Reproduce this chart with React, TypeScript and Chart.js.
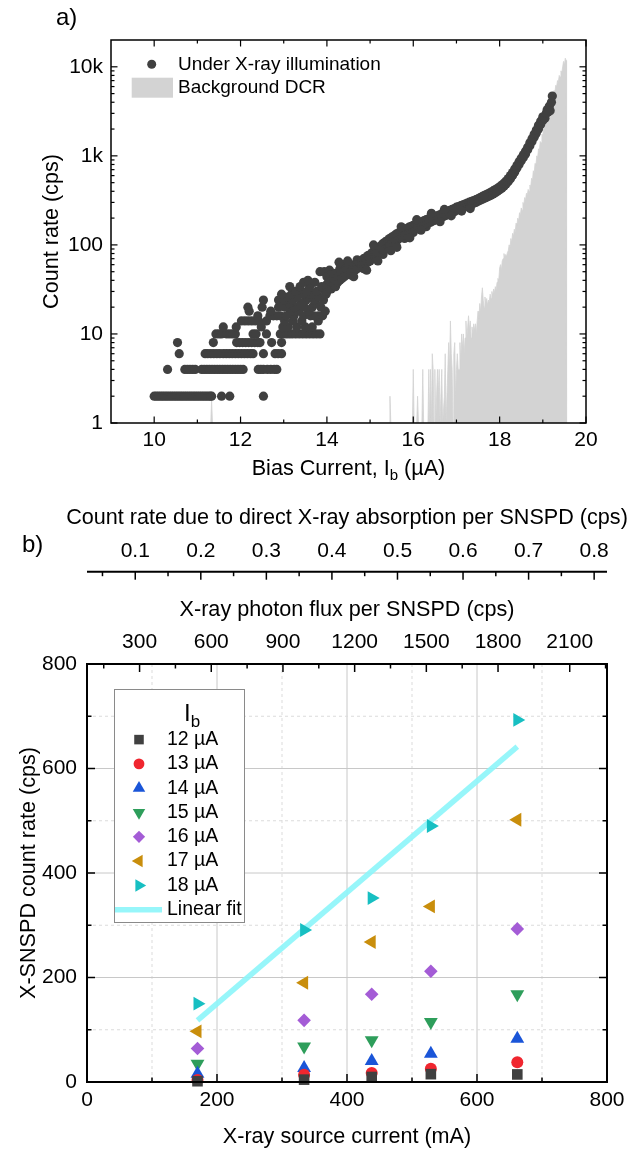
import React, { useEffect, useRef } from 'react';
import { Chart, registerables } from 'chart.js';
import { drawPoint } from 'chart.js/helpers';

Chart.register(...registerables);

const FONT = "'Liberation Sans', Arial, Helvetica, sans-serif";
Chart.defaults.font.family = FONT;
Chart.defaults.color = '#000';

// ---------------- Panel a) data ----------------
const illumLow: [number, number][] = [
  [10.00,2],[10.05,2],[10.10,2],[10.15,2],[10.20,2],[10.25,2],[10.30,2],[10.35,2],[10.40,2],[10.45,2],
  [10.50,2],[10.55,2],[10.60,2],[10.65,2],[10.70,2],[10.75,2],[10.80,2],[10.85,2],[10.90,2],[10.95,2],
  [11.00,2],[11.05,2],[11.10,2],[11.15,2],[11.20,2],[11.25,2],[11.30,2],[11.33,2],[11.56,2],[11.75,2],[12.53,2],
  [10.31,4],[10.71,4],[10.77,4],[10.83,4],[10.89,4],[10.95,4],[11.10,4],[11.16,4],[11.22,4],[11.28,4],
  [11.34,4],[11.40,4],[11.46,4],[11.52,4],[11.58,4],[11.64,4],[11.70,4],[11.76,4],[11.82,4],[11.88,4],
  [11.94,4],[12.00,4],[12.06,4],[12.41,4],[12.47,4],[12.53,4],[12.62,4],[12.70,4],[12.78,4],[12.84,4],
  [10.58,6],[11.18,6],[11.24,6],[11.31,6],[11.38,6],[11.45,6],[11.52,6],[11.60,6],[11.67,6],[11.74,6],
  [11.81,6],[11.88,6],[11.95,6],[12.02,6],[12.09,6],[12.16,6],[12.23,6],[12.29,6],[12.53,6],[12.80,6],[12.87,6],[12.95,6],
  [10.54,8],[11.37,8],[11.91,8],[11.98,8],[12.05,8],[12.12,8],[12.19,8],[12.26,8],[12.33,8],[12.40,8],[12.45,8],[12.72,8],[12.95,8],
  [11.43,10],[11.50,10],[11.56,10],[11.68,10],[11.75,10],[11.82,10],[11.88,10],[12.29,10],[12.36,10],[12.60,10],
  [12.92,10],[12.99,10],[13.06,10],[13.13,10],[13.20,10],[13.28,10],[13.36,10],[13.44,10],[13.52,10],[13.60,10],[13.68,10],[13.76,10],[13.84,10],
  [11.60,12],[11.90,12],[12.48,12],[12.98,12],[13.10,12],[13.30,12],[13.50,12],[13.66,12],
  [12.02,14],[12.10,14],[12.18,14],[12.26,14],[12.34,14],[12.42,14],[12.60,14],[13.02,14],[13.22,14],[13.42,14],[13.80,14],
  [12.40,16],[12.68,16],[12.76,16],[12.84,16],[12.92,16],[13.06,16],[13.24,16],[13.46,16],[13.62,16],[13.70,16],[13.80,16],[13.90,16],
  [12.20,18],[12.70,18],[13.16,18],[13.34,18],[13.58,18],[13.96,18],
  [12.17,20],[12.50,20],[12.88,20],[13.02,20],[13.26,20],[13.48,20],[13.66,20],[13.86,20],
  [12.96,22],[13.14,22],[13.40,22],[13.74,22],
  [12.53,24],[12.88,24],[13.00,24],[13.22,24],[13.52,24],[13.70,24],[13.92,24],
  [13.08,26],[13.32,26],[13.56,26],[13.82,26],
  [12.95,28],[13.18,28],[13.44,28],[13.64,28],[13.98,28],
  [13.28,30],[13.54,30],[13.76,30],[13.96,30],
  [13.14,34],[13.38,34],[13.60,34],[13.88,34],
  [13.46,38],[13.56,40],[13.72,38],
  [13.84,50],[13.94,50],[14.06,52],
];
const illumMid: [number, number][] = [
  [14.00,30],[14.00,36],[14.00,44],[14.05,34],[14.05,40],[14.10,32],[14.10,38],[14.10,46],[14.15,36],[14.15,42],
  [14.20,34],[14.20,40],[14.20,48],[14.25,38],[14.25,44],[14.30,40],[14.30,46],[14.30,54],[14.35,42],[14.35,50],
  [14.40,44],[14.40,52],[14.40,60],[14.45,46],[14.45,54],[14.50,48],[14.50,56],[14.55,46],[14.55,52],[14.55,60],
  [14.60,50],[14.60,58],[14.65,52],[14.65,60],[14.70,54],[14.70,62],[14.70,68],[14.75,56],[14.75,64],[14.80,58],
  [14.80,66],[14.85,54],[14.85,60],[14.85,70],[14.90,62],[14.90,72],[14.95,64],[14.95,76],[15.00,66],[15.00,70],
  [15.00,78],[15.05,70],[15.05,82],[15.10,74],[15.10,86],[15.15,76],[15.15,90],[15.20,80],[15.20,94],[15.25,84],
  [15.25,98],[15.30,78],[15.30,88],[15.30,104],[15.35,92],[15.35,108],[15.40,96],[15.40,112],[15.45,90],[15.45,100],
  [15.45,118],[15.50,104],[15.50,122],[15.55,108],[15.55,126],[15.60,100],[15.60,112],[15.60,132],[15.65,116],[15.65,136],
  [15.70,120],[15.70,140],[15.75,124],[15.75,146],[15.80,118],[15.80,128],[15.80,150],[15.85,132],[15.85,152],[15.90,136],
  [15.90,158],[15.95,142],[15.95,162],[16.00,138],[16.00,148],[16.00,166],[16.05,150],[16.05,170],[16.10,156],[16.10,174],
  [16.15,160],[16.15,178],[16.20,164],[16.20,182],[16.25,168],[16.25,188],[16.30,160],[16.30,172],[16.30,192],[16.35,176],
  [16.35,196],[16.40,180],[16.40,200],[16.45,186],[16.45,204],[16.50,190],[16.50,208],[16.55,196],[16.55,212],[16.60,200],
  [16.60,216],[16.65,204],[16.65,222],[16.70,208],[16.70,226],[16.75,214],[16.75,232],[16.80,218],[16.80,238],[16.85,224],
  [16.85,244],[16.90,230],[16.90,250],[16.95,236],[16.95,256],[17.00,245],[17.00,265],[17.05,250],[17.05,270],[17.10,255],
  [17.10,276],[17.15,262],[17.15,282],[17.20,268],[17.20,288],[17.25,275],[17.25,295],[17.30,282],[17.30,302],[17.35,288],
  [17.35,308],[17.40,294],[17.40,315],[17.45,300],[17.45,322],[17.50,310],[17.50,330],[17.55,318],[17.55,340],[17.60,326],
  [17.60,350],[17.65,334],[17.65,360],[17.70,342],[17.70,370],[17.75,352],[17.75,380],[17.80,362],[17.80,392],[17.85,374],
  [17.85,404],[17.90,386],[17.90,418],[17.95,400],[17.95,432],
  // scattered outliers around the band
  [14.28,64],[14.62,44],[14.92,52],[15.18,66],[15.48,86],[15.72,160],[15.92,120],[16.18,146],[16.42,226],[16.62,182],
  [16.88,212],[17.12,240],[17.32,256],[14.48,66],[15.08,100],[15.62,94],[16.08,192],[16.72,250],
];
const illumHigh: [number, number][] = [
  [18.00,416],[18.00,450],[18.05,434],[18.05,470],[18.10,456],[18.10,494],[18.15,482],[18.15,522],[18.20,514],[18.20,556],
  [18.25,552],[18.25,600],[18.30,600],[18.30,650],[18.35,660],[18.35,710],[18.40,730],[18.40,780],[18.45,800],[18.45,860],
  [18.50,880],[18.50,940],[18.55,960],[18.55,1030],[18.60,1050],[18.60,1130],[18.65,1170],[18.65,1250],[18.70,1300],[18.70,1400],
  [18.75,1450],[18.75,1560],[18.80,1620],[18.80,1750],[18.85,1800],[18.85,1950],[18.90,2000],[18.90,2200],[18.95,2250],[18.95,2450],
  [19.00,2500],[19.00,2750],[19.05,2650],[19.08,3000],[19.10,3300],[19.12,3100],[19.15,3600],[19.17,3200],[19.20,4000],[19.22,4700],
];
const dcrSpikes: [number, number][] = [
  [11.31,1],[11.33,1.8],[11.35,1],
  [15.44,1],[15.46,2],[15.48,1],
  [15.98,1],[16.00,4],[16.02,1],
  [16.08,1],[16.10,2],[16.12,1],
  [16.20,1],[16.22,4],[16.24,1],
  [16.34,1],[16.36,4],[16.38,1],[16.40,4],[16.42,1],[16.44,6],[16.46,4],[16.48,1],[16.50,4],[16.52,1],
  [16.56,4],[16.58,2],[16.60,4],[16.62,1],[16.66,4],[16.68,1],[16.72,2],[16.74,6],[16.76,1],[16.80,4],
  [16.82,8],[16.84,4],[16.86,14],[16.88,6],[16.90,4],[16.92,1],[16.94,6],[16.96,8],[16.98,2],[17.00,4],
  [17.02,6],[17.04,4],
];
const dcrRise: [number, number][] = [
  [17.06,4],[17.08,8],[17.10,5],[17.12,10],[17.14,7],[17.16,10],[17.18,6],[17.20,9],[17.22,14],[17.24,9],
  [17.26,12],[17.28,16],[17.30,11],[17.32,14],[17.34,9],[17.36,12],[17.38,10],[17.40,13],[17.42,11],[17.44,13],
  [17.46,10],[17.48,14],[17.50,18],[17.52,15],[17.54,22],[17.56,18],[17.58,26],[17.60,33],[17.62,24],[17.64,20],
  [17.66,26],[17.68,22],[17.70,25],[17.72,21],[17.74,24],[17.76,23],[17.78,28],[17.80,25],[17.82,30],[17.84,27],
  [17.86,32],[17.88,29],[17.90,34],[17.92,31],[17.94,38],[17.96,42],[17.98,40],[18.00,55],[18.02,60],[18.04,52],
  [18.06,66],[18.08,70],[18.10,80],[18.12,72],[18.14,78],[18.16,74],[18.18,82],[18.20,86],[18.22,100],[18.24,92],
  [18.26,118],[18.28,108],[18.30,135],[18.32,125],[18.34,150],[18.36,140],[18.38,175],[18.40,165],[18.42,200],[18.44,185],
  [18.46,230],[18.48,215],[18.50,260],[18.52,245],[18.54,300],[18.56,280],[18.58,340],[18.60,320],[18.62,380],[18.64,360],
  [18.66,420],[18.68,400],[18.70,470],[18.72,450],[18.74,560],[18.76,530],[18.78,680],[18.80,640],[18.82,820],[18.84,780],
  [18.86,1000],[18.88,950],[18.90,1200],[18.92,1150],[18.94,1450],[18.96,1400],[18.98,1750],[19.00,1700],[19.02,2100],[19.04,2000],
  [19.06,2500],[19.08,2400],[19.10,2900],[19.12,2800],[19.14,3400],[19.16,3300],[19.18,3900],[19.20,3800],[19.22,4600],[19.24,4500],
  [19.26,5400],[19.28,5200],[19.30,6200],[19.32,6000],[19.34,7000],[19.36,6800],[19.38,8000],[19.40,7700],[19.42,9000],[19.44,8600],
  [19.46,10000],[19.48,11500],[19.50,10500],[19.52,12500],[19.54,11800],[19.55,1],
];
const legendLabelsA = ['Under X-ray illumination', 'Background DCR'];
const biasMajorTicks = [10, 12, 14, 16, 18, 20];
const biasMinorTicks = [11, 13, 15, 17, 19];
const countMajorTicks = [1, 10, 100, 1000, 10000];
const countTickLabels = ['1', '10', '100', '1k', '10k'];
const countMinorTicks = [
  2, 3, 4, 5, 6, 7, 8, 9,
  20, 30, 40, 50, 60, 70, 80, 90,
  200, 300, 400, 500, 600, 700, 800, 900,
  2000, 3000, 4000, 5000, 6000, 7000, 8000, 9000,
];

// ---------------- Panel b) data ----------------
const sourceCurrent = [170, 334, 438, 529, 662];
const seriesLabels = ['12 µA', '13 µA', '14 µA', '15 µA', '16 µA', '17 µA', '18 µA'];
const rate12uA = [1.5, 4.5, 9.6, 15, 14.5];
const rate13uA = [4, 14, 17, 25.5, 38];
const rate14uA = [16, 27, 40, 54, 83];
const rate15uA = [35, 68, 80, 115, 168];
const rate16uA = [64, 118, 168, 212, 293];
const rate17uA = [97, 190, 268, 336, 502];
const rate18uA = [150, 291, 352, 490, 693];
const fitCurrent = [170, 662];
const fitRate = [118, 642];
const fitLabel = 'Linear fit';
const currentTicks = [0, 100, 200, 300, 400, 500, 600, 700, 800];
const currentTickLabels = ['0', '', '200', '', '400', '', '600', '', '800'];
const rateTicks = [0, 100, 200, 300, 400, 500, 600, 700, 800];
const rateTickLabels = ['0', '', '200', '', '400', '', '600', '', '800'];
const fluxMajorTicks = [300, 600, 900, 1200, 1500, 1800, 2100];
const fluxMinorTicks = [150, 450, 750, 1050, 1350, 1650, 1950, 2250];
const absorbMajorTicks = [0.1, 0.2, 0.3, 0.4, 0.5, 0.6, 0.7, 0.8];
const absorbTickLabels = ['0.1', '0.2', '0.3', '0.4', '0.5', '0.6', '0.7', '0.8'];
const absorbMinorTicks = [0.05, 0.15, 0.25, 0.35, 0.45, 0.55, 0.65, 0.75];

// ---------------- styles ----------------
const TICK_SIZE = 21;
const TITLE_SIZE = 21.6;
const LEG_SIZE = 19;
const DOT_COLOR = '#404040';
const DCR_COLOR = '#d3d3d3';
const FIT_COLOR = 'rgba(140, 245, 250, 0.9)';
const seriesStyles = [
  { pointStyle: 'rect', rotation: 0, radius: 7.5, color: '#404040' },
  { pointStyle: 'circle', rotation: 0, radius: 6, color: '#f0262f' },
  { pointStyle: 'triangle', rotation: 0, radius: 8, color: '#1a55d8' },
  { pointStyle: 'triangle', rotation: 180, radius: 8, color: '#2e9e5b' },
  { pointStyle: 'rectRot', rotation: 0, radius: 6.8, color: '#a45cd6' },
  { pointStyle: 'triangle', rotation: 270, radius: 8, color: '#c98e0c' },
  { pointStyle: 'triangle', rotation: 90, radius: 8, color: '#17bfc2' },
];
const seriesValues = [rate12uA, rate13uA, rate14uA, rate15uA, rate16uA, rate17uA, rate18uA];

function font(size: number) {
  return `${size}px ${FONT}`;
}

function drawSubscripted(ctx: any, pre: string, sub: string, post: string, cx: number, cy: number, size: number, subSize: number, drop: number, align = 'center') {
  ctx.font = font(size);
  const w1 = ctx.measureText(pre).width;
  const w3 = ctx.measureText(post).width;
  ctx.font = font(subSize);
  const w2 = ctx.measureText(sub).width;
  let x = align === 'center' ? cx - (w1 + w2 + w3) / 2 : cx;
  const base = cy + size * 0.36;
  ctx.textBaseline = 'alphabetic';
  ctx.textAlign = 'left';
  ctx.font = font(size);
  ctx.fillText(pre, x, base);
  x += w1;
  ctx.font = font(subSize);
  ctx.fillText(sub, x, base + drop);
  x += w2;
  ctx.font = font(size);
  if (post) ctx.fillText(post, x, base);
}

function seg(ctx: any, x1: number, y1: number, x2: number, y2: number) {
  ctx.beginPath();
  ctx.moveTo(x1, y1);
  ctx.lineTo(x2, y2);
  ctx.stroke();
}

const panelAPlugin = {
  id: 'panelA',
  afterDraw(chart: any) {
    const { ctx, chartArea: ca, scales } = chart;
    const xs = scales.x;
    const ys = scales.y;
    ctx.save();
    ctx.strokeStyle = '#000';
    ctx.lineWidth = 1.2;
    const xT = (vals: number[], len: number) => vals.forEach((v) => {
      const p = xs.getPixelForValue(v);
      seg(ctx, p, ca.bottom, p, ca.bottom - len);
      seg(ctx, p, ca.top, p, ca.top + len);
    });
    const yT = (vals: number[], len: number) => vals.forEach((v) => {
      const p = ys.getPixelForValue(v);
      seg(ctx, ca.left, p, ca.left + len, p);
      seg(ctx, ca.right, p, ca.right - len, p);
    });
    xT(biasMajorTicks, 6.5);
    xT(biasMinorTicks, 3.5);
    yT(countMajorTicks, 6.5);
    yT(countMinorTicks, 3.5);
    ctx.lineWidth = 1.5;
    ctx.strokeRect(ca.left, ca.top, ca.right - ca.left, ca.bottom - ca.top);

    // legend
    ctx.fillStyle = DOT_COLOR;
    drawPoint(ctx, { pointStyle: 'circle', radius: 4.5, rotation: 0, borderWidth: 0 } as any, 151.7, 64.3);
    ctx.fillStyle = DCR_COLOR;
    ctx.fillRect(131.7, 77.7, 41.3, 20);
    ctx.fillStyle = '#000';
    ctx.font = font(LEG_SIZE);
    ctx.textAlign = 'left';
    ctx.textBaseline = 'middle';
    ctx.fillText(legendLabelsA[0], 178, 64.3);
    ctx.fillText(legendLabelsA[1], 178, 88);

    // x title with subscript
    drawSubscripted(ctx, 'Bias Current, I', 'b', ' (µA)', (ca.left + ca.right) / 2, 467, TITLE_SIZE, 15, 5);

    // panel label
    ctx.font = font(24);
    ctx.textAlign = 'left';
    ctx.textBaseline = 'middle';
    ctx.fillText('a)', 56, 18);
    ctx.restore();
  },
};

const panelBPlugin = {
  id: 'panelB',
  beforeDatasetsDraw(chart: any) {
    const { ctx, chartArea: ca, scales } = chart;
    const xs = scales.x;
    const ys = scales.y;
    ctx.save();
    ctx.lineWidth = 1;
    currentTicks.forEach((v, i) => {
      if (i === 0 || i === currentTicks.length - 1) return;
      const p = xs.getPixelForValue(v);
      const major = currentTickLabels[i] !== '';
      ctx.strokeStyle = major ? '#c8c8c8' : '#dcdcdc';
      ctx.setLineDash(major ? [] : [3, 3]);
      seg(ctx, p, ca.top, p, ca.bottom);
    });
    rateTicks.forEach((v, i) => {
      if (i === 0 || i === rateTicks.length - 1) return;
      const p = ys.getPixelForValue(v);
      const major = rateTickLabels[i] !== '';
      ctx.strokeStyle = major ? '#c8c8c8' : '#dcdcdc';
      ctx.setLineDash(major ? [] : [3, 3]);
      seg(ctx, ca.left, p, ca.right, p);
    });
    ctx.restore();
  },
  afterDraw(chart: any) {
    const { ctx, chartArea: ca, scales } = chart;
    const xs = scales.x;
    const ys = scales.y;
    const xf = scales.xFlux;
    const xa = scales.xAbs;
    ctx.save();
    ctx.strokeStyle = '#000';
    ctx.lineWidth = 1.5;
    currentTicks.forEach((v, i) => {
      const p = xs.getPixelForValue(v);
      const len = currentTickLabels[i] !== '' ? 8 : 4.5;
      seg(ctx, p, ca.bottom, p, ca.bottom - len);
    });
    fluxMajorTicks.forEach((v) => {
      const p = xf.getPixelForValue(v);
      seg(ctx, p, ca.top, p, ca.top + 8);
    });
    fluxMinorTicks.forEach((v) => {
      const p = xf.getPixelForValue(v);
      seg(ctx, p, ca.top, p, ca.top + 4.5);
    });
    rateTicks.forEach((v, i) => {
      const p = ys.getPixelForValue(v);
      const len = rateTickLabels[i] !== '' ? 8 : 4.5;
      seg(ctx, ca.left, p, ca.left + len, p);
      seg(ctx, ca.right, p, ca.right - len, p);
    });
    ctx.lineWidth = 2;
    ctx.strokeRect(ca.left, ca.top, ca.right - ca.left, ca.bottom - ca.top);

    // detached absorption axis
    const ay = xa.bottom;
    seg(ctx, ca.left, ay, ca.right, ay);
    ctx.lineWidth = 1.5;
    absorbMajorTicks.forEach((v) => {
      const p = xa.getPixelForValue(v);
      seg(ctx, p, ay, p, ay + 8);
    });
    absorbMinorTicks.forEach((v) => {
      const p = xa.getPixelForValue(v);
      seg(ctx, p, ay, p, ay + 4.5);
    });
    ctx.fillStyle = '#000';
    ctx.font = font(TITLE_SIZE);
    ctx.textAlign = 'center';
    ctx.textBaseline = 'middle';
    ctx.fillText('Count rate due to direct X-ray absorption per SNSPD (cps)', (ca.left + ca.right) / 2, 38);

    // legend
    const L = { left: 114, top: 209, width: 130, height: 233, markerX: 139, textX: 167, firstRow: 259.6, step: 24.3 };
    ctx.fillStyle = '#fff';
    ctx.fillRect(L.left, L.top, L.width, L.height);
    ctx.strokeStyle = '#8a8a8a';
    ctx.lineWidth = 1;
    ctx.strokeRect(L.left + 0.5, L.top + 0.5, L.width, L.height);
    ctx.fillStyle = '#000';
    drawSubscripted(ctx, 'I', 'b', '', 184, 232, 24, 17, 6, 'left');
    seriesStyles.forEach((s, i) => {
      const y = L.firstRow + L.step * i;
      ctx.fillStyle = s.color;
      drawPoint(ctx, { pointStyle: s.pointStyle, radius: s.radius * 0.9, rotation: s.rotation, borderWidth: 0 } as any, L.markerX, y);
      ctx.fillStyle = '#000';
      ctx.font = font(LEG_SIZE + 0.5);
      ctx.textAlign = 'left';
      ctx.textBaseline = 'middle';
      ctx.fillText(seriesLabels[i], L.textX, y);
    });
    const fy = L.firstRow + L.step * 7;
    ctx.strokeStyle = FIT_COLOR;
    ctx.lineWidth = 5.5;
    seg(ctx, 115, fy, 162, fy);
    ctx.fillStyle = '#000';
    ctx.font = font(LEG_SIZE + 0.5);
    ctx.textAlign = 'left';
    ctx.textBaseline = 'middle';
    ctx.fillText(fitLabel, L.textX, fy);

    // panel label
    ctx.font = font(24);
    ctx.fillText('b)', 22, 65);
    ctx.restore();
  },
};

function tickFont(size: number) {
  return { family: FONT, size };
}

function buildChartA(canvas: HTMLCanvasElement) {
  const illum = [...illumLow, ...illumMid, ...illumHigh].map(([x, y]) => ({ x, y }));
  const dcr = [...dcrSpikes, ...dcrRise].map(([x, y]) => ({ x, y }));
  return new Chart(canvas, {
    type: 'scatter',
    data: {
      datasets: [
        {
          type: 'scatter',
          label: legendLabelsA[0],
          data: illum,
          pointRadius: 4.6,
          pointHoverRadius: 4.6,
          backgroundColor: DOT_COLOR,
          borderWidth: 0,
          order: 1,
        } as any,
        {
          type: 'line',
          label: legendLabelsA[1],
          data: dcr,
          borderColor: DCR_COLOR,
          borderWidth: 0.8,
          backgroundColor: DCR_COLOR,
          fill: 'start',
          pointRadius: 0,
          tension: 0,
          order: 2,
        } as any,
      ],
    },
    options: {
      responsive: false,
      animation: false,
      events: [],
      layout: { padding: { left: 0, right: 45, top: 40, bottom: 0 } },
      plugins: { legend: { display: false }, tooltip: { enabled: false } },
      scales: {
        x: {
          type: 'linear',
          position: 'bottom',
          min: 9,
          max: 20,
          afterBuildTicks: (s: any) => { s.ticks = biasMajorTicks.map((v) => ({ value: v })); },
          afterFit: (s: any) => { s.height = 57; },
          grid: { display: false, drawTicks: false },
          border: { display: false },
          ticks: {
            padding: 4.4,
            color: '#000',
            font: tickFont(TICK_SIZE),
            autoSkip: false,
            maxRotation: 0,
            callback: (v: any) => String(v),
          },
        },
        y: {
          type: 'logarithmic',
          min: 1,
          max: 20000,
          afterBuildTicks: (s: any) => { s.ticks = countMajorTicks.map((v) => ({ value: v })); },
          afterFit: (s: any) => { s.width = 111; },
          grid: { display: false, drawTicks: false },
          border: { display: false },
          title: {
            display: true,
            text: 'Count rate (cps)',
            color: '#000',
            font: tickFont(TITLE_SIZE),
            padding: { top: 39, bottom: 0 },
          },
          ticks: {
            padding: 8,
            color: '#000',
            font: tickFont(TICK_SIZE),
            autoSkip: false,
            callback: (_v: any, i: number) => countTickLabels[i],
          },
        },
      },
    } as any,
    plugins: [panelAPlugin],
  });
}

function buildChartB(canvas: HTMLCanvasElement) {
  const datasets: any[] = seriesValues.map((vals, i) => ({
    type: 'scatter',
    label: seriesLabels[i],
    data: vals.map((y, j) => ({ x: sourceCurrent[j], y })),
    pointStyle: seriesStyles[i].pointStyle,
    pointRotation: seriesStyles[i].rotation,
    pointRadius: seriesStyles[i].radius,
    pointHoverRadius: seriesStyles[i].radius,
    backgroundColor: seriesStyles[i].color,
    borderWidth: 0,
    clip: false,
    order: 1,
    xAxisID: 'x',
    yAxisID: 'y',
  }));
  datasets.push({
    type: 'line',
    label: fitLabel,
    data: fitCurrent.map((x, j) => ({ x, y: fitRate[j] })),
    borderColor: FIT_COLOR,
    borderWidth: 5.5,
    pointRadius: 0,
    fill: false,
    order: 10,
    xAxisID: 'x',
    yAxisID: 'y',
  });
  return new Chart(canvas, {
    type: 'scatter',
    data: { datasets },
    options: {
      responsive: false,
      animation: false,
      events: [],
      layout: { padding: { left: 0, right: 24, top: 0, bottom: 0 } },
      plugins: { legend: { display: false }, tooltip: { enabled: false } },
      scales: {
        x: {
          type: 'linear',
          position: 'bottom',
          min: 0,
          max: 800,
          afterBuildTicks: (s: any) => { s.ticks = currentTicks.map((v) => ({ value: v })); },
          afterFit: (s: any) => { s.height = 68; },
          grid: { display: false, drawTicks: false },
          border: { display: false },
          title: {
            display: true,
            text: 'X-ray source current (mA)',
            color: '#000',
            font: tickFont(TITLE_SIZE),
            padding: { top: 0, bottom: 0.3 },
          },
          ticks: {
            padding: 5.4,
            color: '#000',
            font: tickFont(TICK_SIZE),
            autoSkip: false,
            maxRotation: 0,
            callback: (_v: any, i: number) => currentTickLabels[i],
          },
        },
        xFlux: {
          type: 'linear',
          position: 'top',
          weight: 1,
          min: 80,
          max: 2256,
          afterBuildTicks: (s: any) => { s.ticks = fluxMajorTicks.map((v) => ({ value: v })); },
          afterFit: (s: any) => { s.height = 92.3; },
          grid: { display: false, drawTicks: false },
          border: { display: false },
          title: {
            display: true,
            text: 'X-ray photon flux per SNSPD (cps)',
            color: '#000',
            font: tickFont(TITLE_SIZE),
            padding: { top: 25.3, bottom: 0 },
          },
          ticks: {
            padding: 8.7,
            color: '#000',
            font: tickFont(TICK_SIZE),
            autoSkip: false,
            maxRotation: 0,
            callback: (v: any) => String(v),
          },
        },
        xAbs: {
          type: 'linear',
          position: 'top',
          weight: 2,
          min: 0.0264,
          max: 0.8196,
          afterBuildTicks: (s: any) => { s.ticks = absorbMajorTicks.map((v) => ({ value: v })); },
          afterFit: (s: any) => { s.height = 91.7; },
          grid: { display: false, drawTicks: false },
          border: { display: false },
          ticks: {
            padding: 7.4,
            color: '#000',
            font: tickFont(TICK_SIZE),
            autoSkip: false,
            maxRotation: 0,
            callback: (_v: any, i: number) => absorbTickLabels[i],
          },
        },
        y: {
          type: 'linear',
          position: 'left',
          min: 0,
          max: 800,
          afterBuildTicks: (s: any) => { s.ticks = rateTicks.map((v) => ({ value: v })); },
          afterFit: (s: any) => { s.width = 87; },
          grid: { display: false, drawTicks: false },
          border: { display: false },
          title: {
            display: true,
            text: 'X-SNSPD count rate (cps)',
            color: '#000',
            font: tickFont(TITLE_SIZE),
            padding: { top: 16, bottom: 0 },
          },
          ticks: {
            padding: 10,
            color: '#000',
            font: tickFont(TICK_SIZE),
            autoSkip: false,
            callback: (_v: any, i: number) => rateTickLabels[i],
          },
        },
      },
    } as any,
    plugins: [panelBPlugin],
  });
}

export default function App() {
  const refA = useRef<HTMLCanvasElement>(null);
  const refB = useRef<HTMLCanvasElement>(null);
  useEffect(() => {
    const a = buildChartA(refA.current!);
    const b = buildChartB(refB.current!);
    return () => {
      a.destroy();
      b.destroy();
    };
  }, []);
  return (
    <div style={{ position: 'absolute', left: 0, top: 0, width: 631, height: 1150, background: '#fff', overflow: 'hidden' }}>
      <canvas ref={refA} width={631} height={480} style={{ position: 'absolute', left: 0, top: 0 }} />
      <canvas ref={refB} width={631} height={670} style={{ position: 'absolute', left: 0, top: 480 }} />
    </div>
  );
}
